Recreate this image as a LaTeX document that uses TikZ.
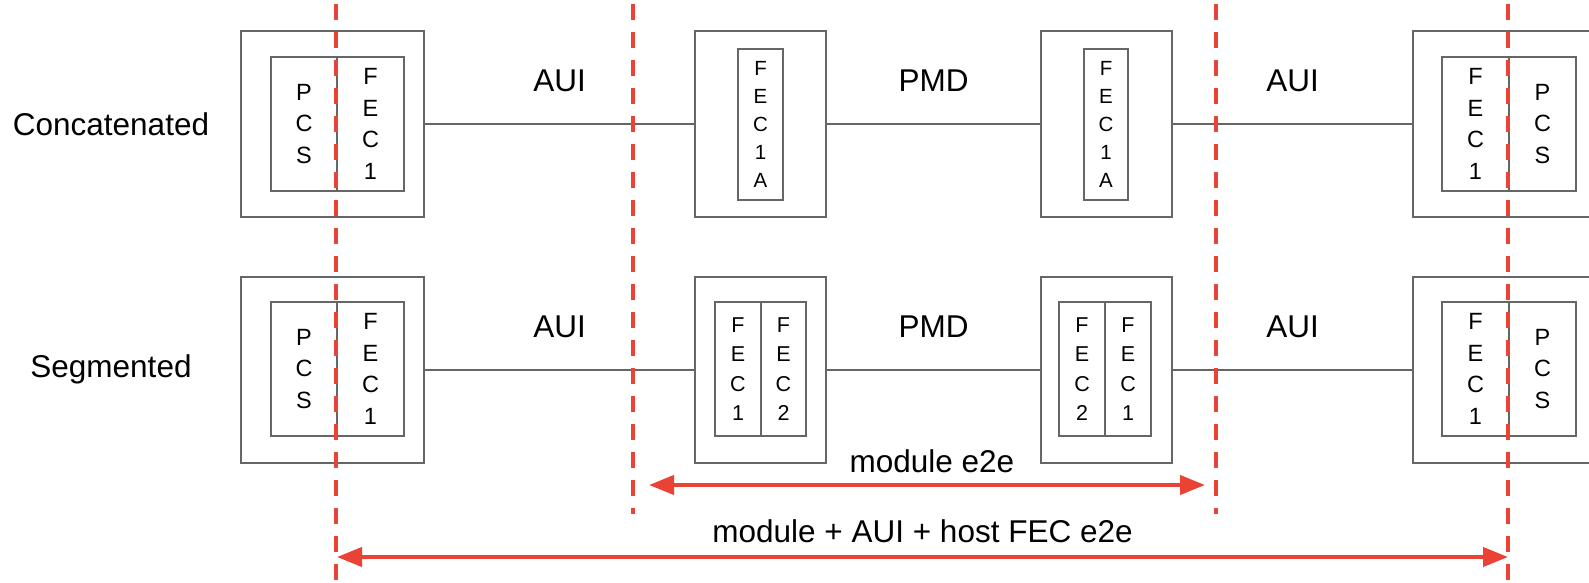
\documentclass[tikz,border=0pt]{standalone}
\usepackage{fontspec}
\setmainfont{Liberation Sans}
\usetikzlibrary{arrows.meta,positioning}

\definecolor{boxgray}{HTML}{666666}
\definecolor{cutred}{HTML}{EA4335}

\tikzset{
  outerbox/.style={draw=boxgray, line width=2pt, inner sep=0pt, minimum height=186pt},
  layer/.style={draw=boxgray, line width=2pt, inner sep=0pt, outer sep=0pt, align=center},
  biglayer/.style={layer, minimum width=67pt, minimum height=134pt, font=\fontsize{23.5}{31.7}\selectfont},
  thinlayer/.style={layer, minimum width=45pt, minimum height=151pt, font=\fontsize{20.5}{28.1}\selectfont},
  seglayer/.style={layer, minimum width=46pt, minimum height=134pt, font=\fontsize{21.5}{29.4}\selectfont},
  wire/.style={draw=boxgray, line width=2pt},
  lbl/.style={font=\fontsize{31.5}{38}\selectfont, inner sep=0pt},
  cut/.style={draw=cutred, line width=4pt, dash pattern=on 16pt off 12pt, dash phase=24pt},
  span/.style={draw=cutred, line width=4pt, {Triangle[length=25pt,width=19pt]}-{Triangle[length=25pt,width=19pt]}}
}

\begin{document}
\begin{tikzpicture}[x=1pt,y=-1pt]
  \useasboundingbox (0,0) rectangle (1589,583);
  \clip (0,0) rectangle (1589,583);

  % row labels
  \node[lbl] (lc) at (111,124) {Concatenated};
  \node[lbl] (ls) at (111,369) {Segmented};

  % concatenated row
  \node[outerbox, minimum width=183pt] (c1) at (332.5,124) {};
  \node[outerbox, minimum width=131pt] (c2) at (760.5,124) {};
  \node[outerbox, minimum width=131pt] (c3) at (1106.5,124) {};
  \node[outerbox, minimum width=183pt] (c4) at (1504.5,124) {};

  \node[biglayer, minimum width=66pt] (c1pcs) at (304,124) {P\\C\\S};
  \node[biglayer] (c1fec) [right=0pt of c1pcs] {F\\E\\C\\1};
  \node[thinlayer] (c2fec) at (760.5,124.5) {F\\E\\C\\1\\A};
  \node[thinlayer, minimum width=44pt] (c3fec) at (1106,124.5) {F\\E\\C\\1\\A};
  \node[biglayer] (c4fec) at (1475.5,124) {F\\E\\C\\1};
  \node[biglayer] (c4pcs) [right=0pt of c4fec] {P\\C\\S};

  \draw[wire] (c1) -- node[lbl, yshift=43pt] (a1) {AUI} (c2)
              (c2) -- node[lbl, yshift=43pt] (p1) {PMD} (c3)
              (c3) -- node[lbl, yshift=43pt] (a2) {AUI} (c4);

  % segmented row
  \node[outerbox, minimum width=183pt] (s1) at (332.5,369.5) {};
  \node[outerbox, minimum width=131pt] (s2) at (760.5,369.5) {};
  \node[outerbox, minimum width=131pt] (s3) at (1106.5,369.5) {};
  \node[outerbox, minimum width=183pt] (s4) at (1504.5,369.5) {};

  \node[biglayer, minimum width=66pt] (s1pcs) at (304,369) {P\\C\\S};
  \node[biglayer] (s1fec) [right=0pt of s1pcs] {F\\E\\C\\1};
  \node[seglayer] (s2fa) at (738,369) {F\\E\\C\\1};
  \node[seglayer, minimum width=45pt] (s2fb) [right=0pt of s2fa] {F\\E\\C\\2};
  \node[seglayer] (s3fb) at (1082,369) {F\\E\\C\\2};
  \node[seglayer] (s3fa) [right=0pt of s3fb] {F\\E\\C\\1};
  \node[biglayer] (s4fec) at (1475.5,369) {F\\E\\C\\1};
  \node[biglayer] (s4pcs) [right=0pt of s4fec] {P\\C\\S};

  \draw[wire] (s1) -- node[lbl, yshift=43pt] (a3) {AUI} (s2)
              (s2) -- node[lbl, yshift=43pt] (p2) {PMD} (s3)
              (s3) -- node[lbl, yshift=43pt] (a4) {AUI} (s4);

  % boundaries
  \coordinate (h1t) at (336,0);   \coordinate (h1b) at (336,583);
  \coordinate (m1t) at (633,0);   \coordinate (m1b) at (633,514);
  \coordinate (m2t) at (1216,0);  \coordinate (m2b) at (1216,514);
  \coordinate (h2t) at (1508,0);  \coordinate (h2b) at (1508,583);
  \draw[cut] (h1t) -- (h1b);
  \draw[cut] (m1t) -- (m1b);
  \draw[cut] (m2t) -- (m2b);
  \draw[cut] (h2t) -- (h2b);

  % spans
  \coordinate (ml) at (649,485);  \coordinate (mr) at (1205,485);
  \coordinate (hl) at (337,557);  \coordinate (hr) at (1508,557);
  \draw[span] (ml) -- node[lbl, yshift=24pt, xshift=5pt] (me2e) {module e2e} (mr);
  \draw[span] (hl) -- node[lbl, yshift=26pt] (he2e) {module + AUI + host FEC e2e} (hr);
\end{tikzpicture}
\end{document}
